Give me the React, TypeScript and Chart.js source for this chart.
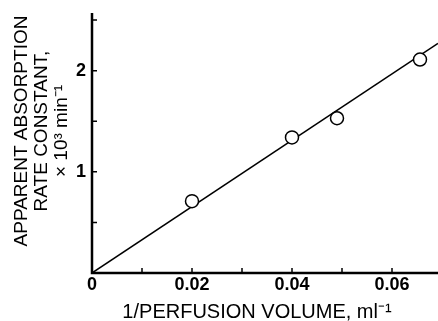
import React, { useEffect, useRef } from "react";
import { Chart, registerables } from "chart.js";

Chart.register(...registerables);

// Data
const volumeInv = [0.02, 0.04, 0.049, 0.0656];
const rateConst = [0.71, 1.34, 1.53, 2.11];
const fitX = [0, 0.0692];
const fitY = [0, 2.27];

const xTicks = [0, 0.01, 0.02, 0.03, 0.04, 0.05, 0.06];
const xLabelled = [0, 0.02, 0.04, 0.06];
const yTicks = [0, 0.5, 1, 1.5, 2, 2.5];
const yLabelled = [1, 2];

const xMax = 0.0692;
const yMax = 2.57;

const xTitle = "1/PERFUSION VOLUME, ml\u207B\u00B9";
const yTitle = ["APPARENT ABSORPTION", "RATE CONSTANT,", "\u00D7 10\u00B3 min\u207B\u00B9"];

const FONT = "'Liberation Sans', Arial, Helvetica, sans-serif";

const axesPlugin = {
  id: "customAxes",
  afterDraw(chart: any) {
    const { ctx } = chart;
    const xs = chart.scales.x;
    const ys = chart.scales.y;
    const x0 = xs.getPixelForValue(0);
    const y0 = ys.getPixelForValue(0);
    const yTop = ys.getPixelForValue(yMax);
    ctx.save();
    ctx.strokeStyle = "#000";
    ctx.lineCap = "butt";
    // axis lines
    ctx.lineWidth = 2.5;
    ctx.beginPath();
    ctx.moveTo(x0, y0 + 1.2);
    ctx.lineTo(x0, yTop);
    ctx.moveTo(x0 - 1.2, y0);
    ctx.lineTo(xs.right, y0);
    ctx.stroke();
    // inward ticks
    ctx.lineWidth = 1.5;
    ctx.beginPath();
    for (const v of yTicks) {
      if (v === 0) continue;
      const p = ys.getPixelForValue(v);
      ctx.moveTo(x0, p);
      ctx.lineTo(x0 + 5, p);
    }
    for (const v of xTicks) {
      if (v === 0) continue;
      const p = xs.getPixelForValue(v);
      ctx.moveTo(p, y0);
      ctx.lineTo(p, y0 - 5);
    }
    ctx.stroke();
    // titles
    ctx.fillStyle = "#000";
    ctx.textAlign = "center";
    ctx.textBaseline = "middle";
    ctx.font = `20px ${FONT}`;
    ctx.fillText(xTitle, 257, 312);
    ctx.font = `19px ${FONT}`;
    const lineX = [22, 42, 62];
    yTitle.forEach((t, i) => {
      ctx.save();
      ctx.translate(lineX[i], 131);
      ctx.rotate(-Math.PI / 2);
      ctx.fillText(t, 0, 0);
      ctx.restore();
    });
    ctx.restore();
  },
};

export default function App() {
  const ref = useRef<HTMLCanvasElement | null>(null);
  useEffect(() => {
    if (!ref.current) return;
    const chart = new Chart(ref.current, {
      type: "scatter",
      data: {
        datasets: [
          {
            label: "measured",
            data: volumeInv.map((x, i) => ({ x, y: rateConst[i] })),
            showLine: false,
            pointRadius: 6.5,
            pointBackgroundColor: "#fff",
            pointBorderColor: "#000",
            pointBorderWidth: 1.5,
          },
          {
            label: "fit",
            data: fitX.map((x, i) => ({ x, y: fitY[i] })),
            showLine: true,
            pointRadius: 0,
            borderColor: "#000",
            borderWidth: 1.5,
          },
        ],
      },
      options: {
        animation: false,
        responsive: false,
        maintainAspectRatio: false,
        layout: { autoPadding: false, padding: { top: 13, right: 0, left: 0, bottom: 0 } },
        plugins: { legend: { display: false }, tooltip: { enabled: false } },
        scales: {
          x: {
            type: "linear",
            min: 0,
            max: xMax,
            grid: { display: false, drawTicks: false },
            border: { display: false },
            afterBuildTicks: (s: any) => {
              s.ticks = xTicks.map((v) => ({ value: v }));
            },
            afterFit: (s: any) => {
              s.height = 48;
              s.paddingLeft = 0;
              s.paddingRight = 0;
            },
            ticks: {
              padding: 1,
              color: "#000",
              maxRotation: 0,
              autoSkip: false,
              font: { family: FONT, size: 18, weight: "bold" },
              callback: (v: any) => (xLabelled.includes(Number(v)) ? String(v) : ""),
            },
          },
          y: {
            type: "linear",
            min: 0,
            max: yMax,
            grid: { display: false, drawTicks: false },
            border: { display: false },
            afterBuildTicks: (s: any) => {
              s.ticks = yTicks.map((v) => ({ value: v }));
            },
            afterFit: (s: any) => {
              s.width = 92;
              s.paddingTop = 0;
              s.paddingBottom = 0;
            },
            ticks: {
              padding: 6,
              color: "#000",
              autoSkip: false,
              font: { family: FONT, size: 18, weight: "bold" },
              callback: (v: any) => (yLabelled.includes(Number(v)) ? String(v) : ""),
            },
          },
        },
      },
      plugins: [axesPlugin],
    } as any);
    return () => chart.destroy();
  }, []);
  return (
    <div style={{ position: "fixed", left: 0, top: 0, width: 438, height: 321, background: "#fff" }}>
      <canvas ref={ref} width={438} height={321} style={{ display: "block" }} />
    </div>
  );
}
